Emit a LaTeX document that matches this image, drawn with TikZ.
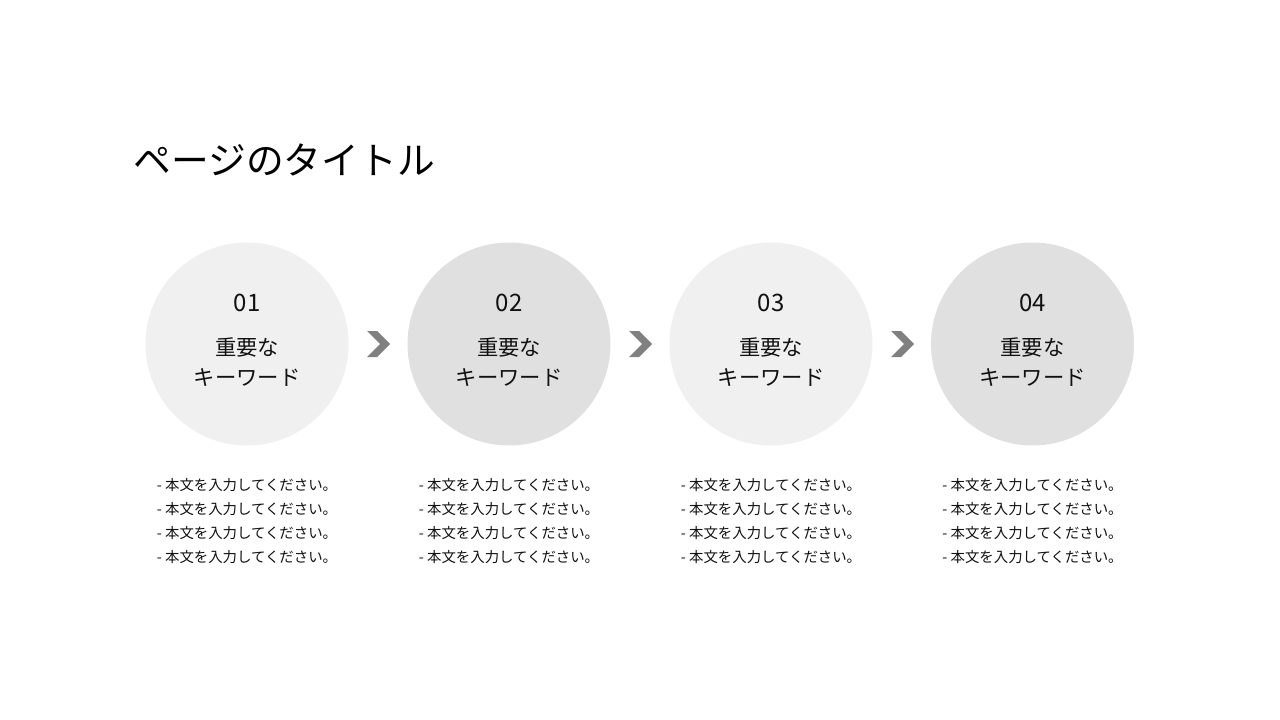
\documentclass[tikz,border=0pt]{standalone}
\usepackage{fontspec}
\setmainfont{Noto Sans CJK JP}
\definecolor{lightc}{HTML}{F0F0F0}
\definecolor{darkc}{HTML}{E0E0E0}
\definecolor{chev}{HTML}{808080}
\definecolor{txt}{HTML}{111111}
\begin{document}
\begin{tikzpicture}[x=0.75pt,y=-0.75pt,
  stepcircle/.style={circle,minimum size=203*0.75pt,inner sep=0pt},
  numtext/.style={font=\fontsize{18}{22}\selectfont,text=txt},
  keytext/.style={font=\fontsize{16}{22.5}\selectfont,text=txt,align=center},
  bodytext/.style={font=\fontsize{10.8}{18}\selectfont,text=txt,align=left},
  chevron/.style={fill=chev,draw=none}]
\useasboundingbox (0,0) rectangle (1280,720);
\fill[white] (0,0) rectangle (1280,720);
\node[anchor=west,font=\fontsize{28.3}{32}\selectfont,text=black] (title) at (129,160) {ページのタイトル};
\foreach \i/\cx/\col in {1/247/lightc,2/509/darkc,3/771/lightc,4/1032.5/darkc}{
  \node[stepcircle,fill=\col] (c\i) at (\cx,344) {};
  \node[numtext] (n\i) at (\cx,303) {0\i};
  \node[keytext] (k\i) at (\cx,362) {重要な\\キーワード};
  \node[bodytext] (b\i) at (\cx,521) {- 本文を入力してください。\\- 本文を入力してください。\\- 本文を入力してください。\\- 本文を入力してください。};
}
\foreach \i/\cx in {1/367,2/629,3/891}{
  \fill[chevron] (\cx,331) -- (\cx+10,331) -- (\cx+23,344) -- (\cx+10,357) -- (\cx,357) -- (\cx+13,344) -- cycle;
}
\end{tikzpicture}
\end{document}
